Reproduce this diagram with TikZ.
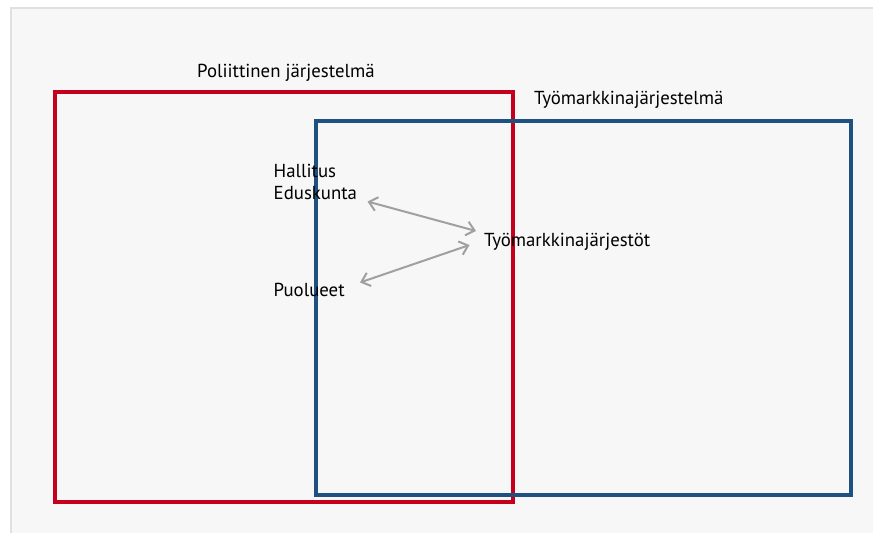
\documentclass[tikz,border=0pt]{standalone}
\usepackage{fontspec}
\setmainfont{PT Sans}
\usetikzlibrary{arrows.meta}
\definecolor{bgfill}{HTML}{F7F7F7}
\definecolor{bgline}{HTML}{E0E0E0}
\definecolor{polred}{HTML}{C4001C}
\definecolor{labblue}{HTML}{1F5180}
\definecolor{arrgray}{HTML}{A0A0A0}
\tikzset{
  lbl/.style={anchor=base west, inner sep=0pt, font=\fontsize{18.8}{22.5}\selectfont, text=black},
  sysbox/.style={line width=4pt, inner sep=0pt, outer sep=0pt, anchor=north west},
  link/.style={draw=arrgray, line width=2pt, {Straight Barb[length=8pt,width=14pt]}-{Straight Barb[length=8pt,width=14pt]}}
}
\begin{document}
\begin{tikzpicture}[x=1pt,y=-1pt]
\useasboundingbox (0,0) rectangle (873,533);
\fill[white] (0,0) rectangle (873,533);
\fill[bgfill] (11,8) rectangle (873,533);
\draw[bgline, line width=1.5pt] (11,533) -- (11,8) -- (873,8);
\node[draw=polred, sysbox, minimum width=458.5pt, minimum height=410.5pt] (pol) at (54.5,91.5) {};
\node[draw=labblue, sysbox, minimum width=535pt, minimum height=373.5pt] (tm) at (315.5,121) {};
\node[lbl] (poltxt) at (197,77.5) {Poliittinen järjestelmä};
\node[lbl] (tmtxt) at (534,104.5) {Työmarkkinajärjestelmä};
\node[lbl, align=left] (hall) at (273.5,199.5) {Hallitus\\Eduskunta};
\node[lbl] (jarj) at (484,246.5) {Työmarkkinajärjestöt};
\node[lbl] (puol) at (273.5,296.5) {Puolueet};
\coordinate (a1) at (367.5,201.5);
\coordinate (b1) at (476,231);
\coordinate (a2) at (360,282.5);
\coordinate (b2) at (469.5,245);
\draw[link] (a1) -- (b1);
\draw[link] (a2) -- (b2);
\end{tikzpicture}
\end{document}
